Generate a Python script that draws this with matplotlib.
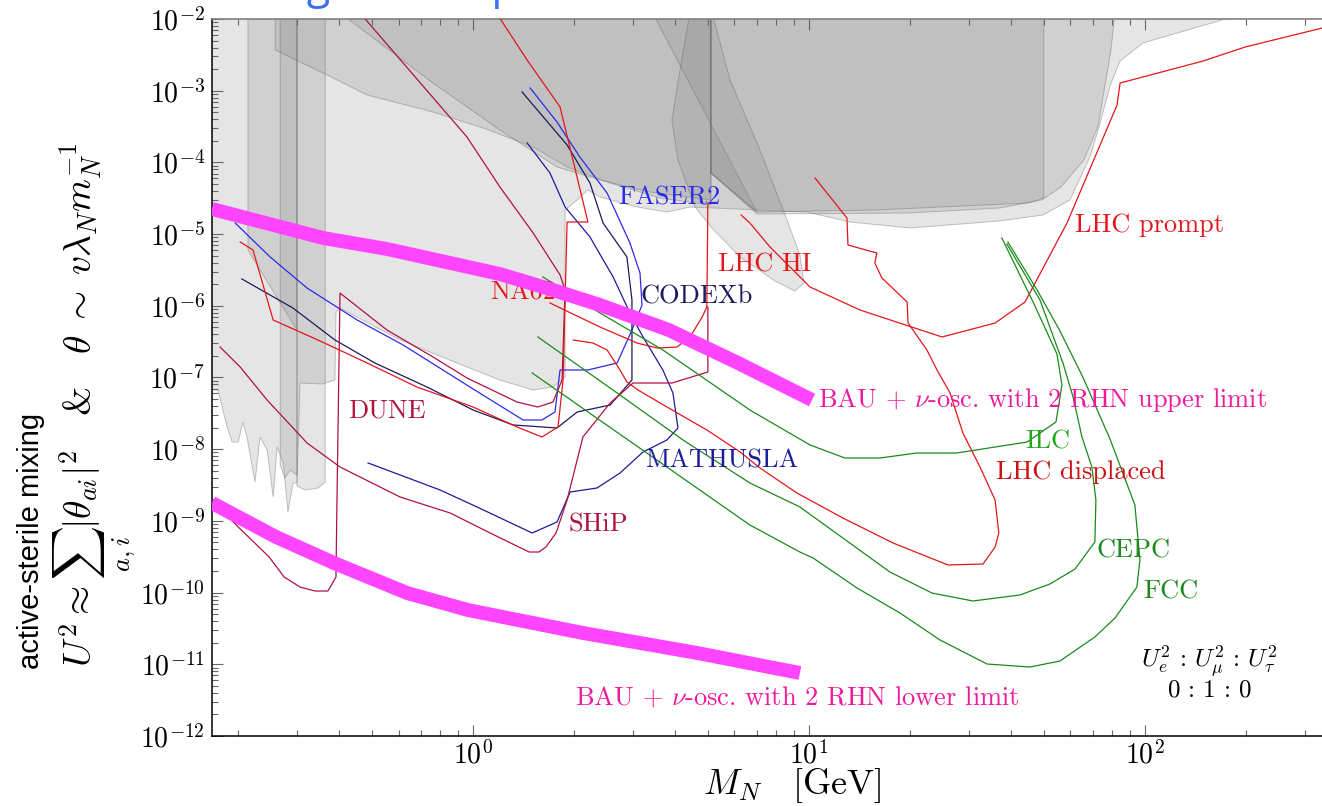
import numpy as np
import matplotlib
matplotlib.use("Agg")
import matplotlib.pyplot as plt
from matplotlib.patches import Polygon
from matplotlib.ticker import LogLocator, NullFormatter

plt.rcParams["mathtext.fontset"] = "cm"
plt.rcParams["font.family"] = "cmr10"
plt.rcParams["axes.formatter.use_mathtext"] = True

# All curves below are given as (log10 M_N / GeV, log10 U^2) pairs.

# --- excluded regions (grey) ---
excl_envelope = [(-0.85, -1.9), (2.313, -1.9), (1.994, -2.335), (1.926, -2.586), (1.896, -2.934),
                 (1.866, -3.464), (1.836, -3.925), (1.777, -4.524), (1.696, -4.734), (1.568, -4.817),
                 (1.301, -4.915), (1.122, -4.831), (0.994, -4.692), (0.646, -4.622), (0.577, -4.692),
                 (0.488, -4.622), (0.378, -4.483), (0.342, -4.385), (0.310, -4.524), (0.274, -4.664),
                 (0.274, -6.993), (0.238, -7.133), (0.179, -7.174), (0.080, -7.035), (-0.018, -6.854),
                 (-0.217, -6.477), (-0.396, -6.031), (-0.408, -6.087), (-0.411, -7.035), (-0.449, -7.091),
                 (-0.515, -7.077), (-0.524, -8.471), (-0.536, -8.471), (-0.551, -8.876), (-0.565, -8.192),
                 (-0.583, -7.969), (-0.595, -8.667), (-0.613, -8.011), (-0.634, -7.830), (-0.649, -8.458),
                 (-0.673, -7.830), (-0.685, -7.621), (-0.699, -7.900), (-0.717, -7.900), (-0.732, -7.690),
                 (-0.759, -7.174), (-0.85, -7.174)]
excl_strip_a = [(-0.670, -1.9), (-0.524, -1.9), (-0.524, -6.338), (-0.670, -5.222)]
excl_strip_b = [(-0.574, -1.9), (-0.524, -1.9), (-0.524, -8.360), (-0.545, -8.290),
                (-0.560, -8.402), (-0.574, -8.220)]
excl_strip_c = [(-0.524, -1.9), (-0.440, -1.9), (-0.440, -8.458), (-0.461, -8.541),
                (-0.500, -8.569), (-0.524, -8.513)]
excl_slant_1 = [(-0.589, -1.9), (-0.589, -2.432), (-0.440, -2.767), (-0.315, -3.060), (-0.119, -3.297),
                (0.030, -3.520), (0.179, -3.785), (0.280, -4.064), (0.408, -4.287), (0.557, -4.497),
                (0.708, -4.594), (0.708, -1.9)]
excl_slant_2 = [(-0.40, -1.9), (-0.119, -2.893), (0.080, -3.548), (0.250, -4.064), (0.378, -4.245),
                (0.527, -4.413), (0.708, -4.524), (0.708, -1.9)]
excl_wedge = [(0.533, -1.9), (0.845, -4.692), (0.708, -4.148), (0.708, -1.9)]
excl_collider = [(0.708, -1.9), (1.911, -1.9), (1.899, -2.432), (1.860, -3.506), (1.818, -3.967),
                 (1.750, -4.343), (1.693, -4.524), (1.568, -4.636), (1.298, -4.706), (0.845, -4.720),
                 (0.708, -4.148)]
excl_collider_core = [(0.708, -1.9), (1.699, -1.9), (1.699, -4.497), (1.652, -4.566), (1.199, -4.664),
                      (0.845, -4.692), (0.708, -4.148)]
excl_lobe = [(0.646, -1.9), (0.711, -1.9), (0.765, -2.851), (0.854, -3.827), (0.929, -4.734),
             (0.973, -5.292), (0.985, -5.682), (0.958, -5.794), (0.899, -5.654), (0.795, -5.319),
             (0.711, -4.915), (0.661, -4.622), (0.610, -3.967), (0.592, -3.409), (0.616, -2.711)]

# --- future sensitivities ---
faser2 = [(-0.708, -4.845), (-0.604, -5.319), (-0.494, -5.752), (-0.345, -6.198), (-0.208, -6.547),
          (-0.009, -7.133), (0.149, -7.593), (0.205, -7.593), (0.244, -7.481), (0.259, -6.895),
          (0.342, -6.895), (0.429, -6.798), (0.473, -6.338), (0.503, -5.989), (0.497, -5.543),
          (0.467, -5.124), (0.399, -4.427), (0.318, -3.925), (0.250, -3.437), (0.170, -2.962)]
codexb = [(-0.688, -5.626), (-0.536, -6.031), (-0.411, -6.477), (-0.292, -6.798), (-0.137, -7.133),
          (0.0, -7.453), (0.119, -7.662), (0.250, -7.704), (0.310, -7.481), (0.408, -7.384),
          (0.473, -7.035), (0.473, -5.919), (0.458, -5.319), (0.387, -4.845), (0.348, -4.287),
          (0.280, -3.757), (0.146, -3.018)]
mathusla = [(-0.3125, -8.192), (-0.098, -8.569), (0.012, -8.806), (0.176, -9.169), (0.250, -9.015),
            (0.289, -8.597), (0.369, -8.541), (0.4375, -8.332), (0.506, -8.039), (0.577, -7.872),
            (0.610, -7.704), (0.595, -7.216), (0.565, -6.895), (0.506, -6.435), (0.467, -6.100),
            (0.417, -5.598), (0.348, -5.040), (0.274, -4.622), (0.229, -4.148), (0.161, -3.729)]
ship = [(-0.753, -6.575), (-0.693, -6.854), (-0.613, -7.314), (-0.494, -7.914), (-0.396, -8.248),
        (-0.217, -8.667), (-0.068, -8.890), (0.051, -9.169), (0.167, -9.434), (0.196, -9.434),
        (0.217, -9.364), (0.247, -9.169), (0.280, -8.709), (0.327, -7.830), (0.408, -7.356),
        (0.476, -7.077), (0.592, -7.077), (0.699, -6.923), (0.699, -6.017)]
dune = [(-0.777, -8.709), (-0.699, -9.085), (-0.607, -9.503), (-0.5625, -9.782), (-0.515, -9.922),
        (-0.470, -9.978), (-0.432, -9.978), (-0.408, -9.782), (-0.405, -8.709), (-0.396, -5.822),
        (-0.256, -6.338), (-0.119, -6.714), (-0.018, -7.007), (0.131, -7.342), (0.193, -7.411),
        (0.238, -7.342), (0.265, -7.035), (0.274, -5.780), (0.259, -5.570), (0.179, -4.985),
        (0.080, -4.343), (-0.018, -3.646), (-0.321, -2.0)]
na62 = [(-0.693, -5.110), (-0.655, -5.222), (-0.595, -6.198), (-0.455, -6.491), (-0.315, -6.798),
        (-0.167, -7.133), (0.0, -7.411), (0.131, -7.690), (0.205, -7.830), (0.253, -7.690),
        (0.268, -7.035), (0.274, -5.919), (0.280, -4.831), (0.342, -4.831), (0.259, -3.227),
        (0.161, -2.572), (0.080, -1.99)]
lhc_hi = [(0.229, -5.961), (0.378, -6.296), (0.488, -6.519), (0.548, -6.589), (0.607, -6.575),
          (0.646, -6.435), (0.682, -6.156), (0.696, -6.017), (0.699, -4.566)]
lhc_displaced = [(0.298, -6.477), (0.357, -6.519), (0.399, -6.616), (0.4375, -6.895), (0.458, -7.063),
                 (0.491, -7.174), (0.577, -7.411), (0.696, -7.732), (0.795, -8.039), (0.854, -8.262),
                 (0.964, -8.611), (1.101, -8.960), (1.25, -9.308), (1.414, -9.615), (1.518, -9.601),
                 (1.554, -9.364), (1.565, -9.169), (1.554, -8.709), (1.509, -8.248), (1.458, -7.774),
                 (1.420, -7.216), (1.381, -6.895), (1.351, -6.616), (1.295, -6.240), (1.292, -5.947),
                 (1.217, -5.612), (1.196, -5.403), (1.202, -5.264), (1.116, -5.152), (1.113, -4.775),
                 (1.018, -4.218)]
lhc_prompt = [(0.798, -4.734), (0.824, -4.845), (0.884, -5.180), (1.003, -5.738), (1.152, -6.059),
              (1.396, -6.435), (1.554, -6.240), (1.643, -5.947), (1.768, -4.845), (1.917, -3.199),
              (1.926, -2.893), (2.173, -2.586), (2.298, -2.391), (2.55, -2.10)]
ilc = [(0.208, -5.598), (0.378, -6.100), (0.565, -6.616), (0.824, -7.453), (1.003, -7.941),
       (1.107, -8.123), (1.211, -8.123), (1.321, -8.053), (1.440, -8.053), (1.649, -7.900),
       (1.735, -7.621), (1.753, -7.105), (1.738, -6.672), (1.667, -5.947), (1.574, -5.054)]
cepc = [(0.193, -6.435), (0.429, -7.216), (0.625, -7.872), (0.824, -8.471), (0.973, -8.806),
        (1.241, -9.713), (1.366, -10.006), (1.488, -10.117), (1.628, -10.033), (1.717, -9.880),
        (1.792, -9.671), (1.851, -9.294), (1.854, -8.709), (1.842, -8.248), (1.8125, -7.830),
        (1.786, -7.272), (1.756, -6.798), (1.6875, -5.919), (1.589, -5.138)]
fcc = [(0.176, -6.937), (0.824, -9.057), (0.973, -9.434), (1.012, -9.517), (1.143, -9.936),
       (1.271, -10.285), (1.390, -10.661), (1.530, -10.996), (1.658, -11.038), (1.747, -10.954),
       (1.851, -10.619), (1.911, -10.354), (1.976, -9.922), (1.985, -9.545), (1.970, -8.778),
       (1.896, -7.858), (1.815, -6.993), (1.747, -6.351), (1.679, -5.780), (1.592, -5.110)]

# --- leptogenesis bands ---
bau_upper = [(-0.777, -4.650), (-0.446, -5.054), (-0.256, -5.208), (-0.068, -5.403), (0.080, -5.557),
             (0.229, -5.766), (0.378, -5.989), (0.583, -6.338), (0.789, -6.798), (1.009, -7.314)]
bau_lower = [(-0.777, -8.750), (-0.586, -9.225), (-0.414, -9.587), (-0.196, -10.006), (-0.015, -10.243),
             (0.327, -10.563), (0.667, -10.842), (0.973, -11.121)]


def xy(points):
    arr = np.asarray(points, dtype=float)
    return 10.0 ** arr[:, 0], 10.0 ** arr[:, 1]


RED = "#e3161b"
RED_DARK = "#cc1111"
BLUE = "#2b2bea"
NAVY = "#1b1b5e"
NAVY2 = "#1c1c9c"
CRIMSON = "#b0123f"
GREEN = "#1a8a1a"
GREEN_LIGHT = "#22a622"
MAGENTA = "#ff45ff"
PINK = "#f0189c"

fig = plt.figure(figsize=(13.22, 8.06), dpi=100)
ax = fig.add_axes([212 / 1322, 70 / 806, 1110 / 1322, 717 / 806])
ax.set_xscale("log")
ax.set_yscale("log")
ax.set_xlim(10 ** -0.777, 10 ** 2.527)
ax.set_ylim(1e-12, 1e-2)

face = (0.5, 0.5, 0.5, 0.2)
edge = (0.35, 0.35, 0.35, 0.35)
for region in [excl_envelope, excl_strip_a, excl_strip_b, excl_strip_c, excl_slant_1, excl_slant_2,
               excl_wedge, excl_collider, excl_collider_core, excl_lobe]:
    x, y = xy(region)
    ax.add_patch(Polygon(np.column_stack([x, y]), closed=True, facecolor=face,
                         edgecolor=edge, lw=0.7, zorder=1))

for curve, col in [(faser2, BLUE), (codexb, NAVY), (mathusla, NAVY2), (ship, CRIMSON),
                   (dune, CRIMSON), (na62, RED), (lhc_hi, RED), (lhc_displaced, RED),
                   (lhc_prompt, RED), (ilc, GREEN), (cepc, GREEN), (fcc, GREEN)]:
    x, y = xy(curve)
    ax.plot(x, y, color=col, lw=0.9, zorder=3)

for band in [bau_upper, bau_lower]:
    x, y = xy(band)
    ax.plot(x, y, color=MAGENTA, lw=10, solid_capstyle="butt", solid_joinstyle="round", zorder=5)

labels = [
    ("FASER2", 0.432, -4.497, BLUE),
    ("LHC HI", 0.729, -5.431, RED),
    ("NA62", 0.051, -5.822, RED),
    ("CODEXb", 0.497, -5.877, NAVY),
    ("DUNE", -0.372, -7.467, CRIMSON),
    ("MATHUSLA", 0.512, -8.165, NAVY2),
    ("SHiP", 0.283, -9.057, CRIMSON),
    ("LHC prompt", 1.792, -4.873, RED),
    ("ILC", 1.643, -7.900, GREEN_LIGHT),
    ("LHC displaced", 1.557, -8.318, RED_DARK),
    ("CEPC", 1.857, -9.420, GREEN),
    ("FCC", 1.994, -9.992, GREEN),
    (r"BAU + $\nu$-osc. with 2 RHN upper limit", 1.027, -7.314, PINK),
    (r"BAU + $\nu$-osc. with 2 RHN lower limit", 0.304, -11.456, PINK),
]
for text, lm, lu, col in labels:
    ax.text(10 ** lm, 10 ** lu, text, color=col, fontsize=19, ha="left", va="center", zorder=4)

ax.text(10 ** 2.19, 10 ** -10.968, r"$U_e^2 \,:\, U_\mu^2 \,:\, U_\tau^2$", fontsize=18,
        ha="center", va="center", zorder=4)
ax.text(10 ** 2.19, 10 ** -11.36, r"$0 \,:\, 1 \,:\, 0$", fontsize=18, ha="center", va="center",
        zorder=4)

# axes styling
ax.spines["right"].set_visible(False)
ax.spines["top"].set_color("#808080")
ax.spines["top"].set_linewidth(1.2)
for s in ("left", "bottom"):
    ax.spines[s].set_color("black")
    ax.spines[s].set_linewidth(1.1)

for axis in (ax.xaxis, ax.yaxis):
    axis.set_major_locator(LogLocator(base=10, numticks=30))
    axis.set_minor_locator(LogLocator(base=10, subs=np.arange(2, 10), numticks=30))
    axis.set_minor_formatter(NullFormatter())

ax.tick_params(which="both", direction="in", top=True, right=False, color="#666666", width=0.8)
ax.tick_params(which="major", length=8, labelsize=20)
ax.tick_params(which="minor", length=4)
ax.tick_params(axis="x", which="major", pad=3)
ax.tick_params(axis="y", which="major", pad=5)

ax.set_xlabel(r"$M_N \quad [\mathrm{GeV}]$", fontsize=26)
ax.xaxis.set_label_coords(0.523, -0.042)

fig.text(95 / 1322, 1 - 405 / 806,
         r"$U^2 \approx \sum_{a,i}|\theta_{ai}|^2 \quad & \quad \theta \;\sim\; v\lambda_N m_N^{-1}$",
         rotation=90, fontsize=27, ha="center", va="center")
fig.text(31 / 1322, 1 - 541 / 806, "active-sterile mixing", rotation=90, fontsize=21,
         family="Liberation Sans", ha="center", va="center")

fig.text(186 / 1322, 1 + 2 / 806, "Testing the full picture", color="#3f6ff0", fontsize=31,
         family="Open Sans", ha="left", va="baseline")

fig.savefig("out.png", dpi=100)
